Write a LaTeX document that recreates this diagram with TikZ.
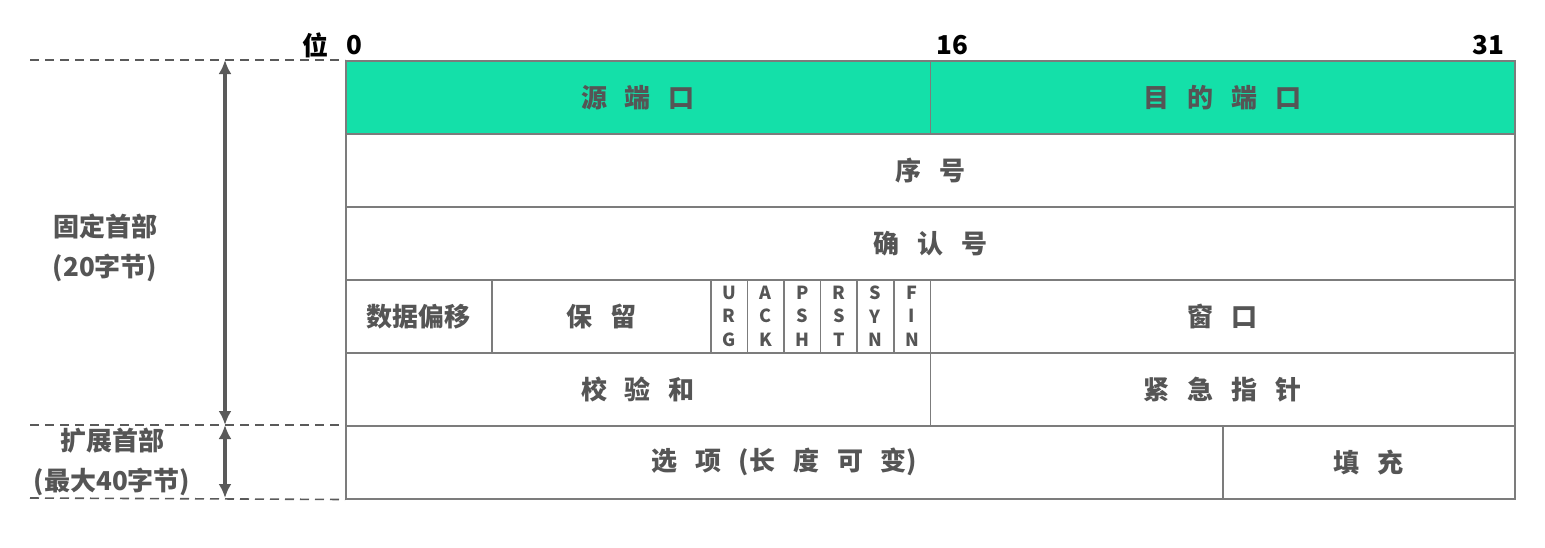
\documentclass[tikz,border=0pt]{standalone}
\usepackage{fontspec}
\setmainfont{Noto Sans CJK SC}[WordSpace=3.0]
\usetikzlibrary{arrows.meta}
\definecolor{mint}{HTML}{14E0A9}
\definecolor{ink}{HTML}{555555}
\definecolor{rulegray}{HTML}{7C7C7C}
\definecolor{dimline}{HTML}{5A5A5A}
\tikzset{cell/.style={draw=rulegray,line width=1.5pt,rectangle,anchor=north west,inner sep=0pt,minimum height=73pt,text=ink,font=\fontsize{26}{26}\selectfont\bfseries}, flag/.style={cell,minimum width=36.53pt,align=center,font=\fontsize{18}{23.5}\selectfont\bfseries}, bitno/.style={font=\fontsize{26}{26}\selectfont\bfseries,text=black,inner sep=0pt}, side/.style={align=center,text=ink,font=\fontsize{26}{40}\selectfont\bfseries}, guide/.style={draw=dimline,line width=1.6pt,dash pattern=on 9pt off 6pt}, span/.style={{Latex[length=14pt,width=13pt]}-{Latex[length=14pt,width=13pt]},line width=3.5pt,draw=dimline}}

\begin{document}
\begin{tikzpicture}[x=1pt,y=-1pt]
\useasboundingbox (0,0) rectangle (1545,547);
% bit numbers
\node[bitno] (wei) at (315,45) {位};
\node[bitno] (b0) at (354,45) {0};
\node[bitno] (b16) at (952,45) {16};
\node[bitno] (b31) at (1488,45) {31};
% header fields
\node[cell,fill=mint,minimum width=584.5pt] (src) at (345,60) {源 端 口};
\node[cell,fill=mint,minimum width=584.5pt] (dst) at (929.5,60) {目 的 端 口};
\node[cell,minimum width=1169pt] (seq) at (345,133) {序 号};
\node[cell,minimum width=1169pt] (ack) at (345,206) {确 认 号};
\node[cell,minimum width=146.1pt] (off) at (345,279) {数据偏移};
\node[cell,minimum width=219.2pt] (rsv) at (491.1,279) {保 留};
\node[flag] (urg) at (710.3,279) {U\\R\\G};
\node[flag] (ackf) at (746.8,279) {A\\C\\K};
\node[flag] (psh) at (783.4,279) {P\\S\\H};
\node[flag] (rst) at (819.9,279) {R\\S\\T};
\node[flag] (syn) at (856.4,279) {S\\Y\\N};
\node[flag] (fin) at (893,279) {F\\I\\N};
\node[cell,minimum width=584.5pt] (win) at (929.5,279) {窗 口};
\node[cell,minimum width=584.5pt] (chk) at (345,352) {校 验 和};
\node[cell,minimum width=584.5pt] (urp) at (929.5,352) {紧 急 指 针};
\node[cell,minimum width=877pt] (opt) at (345,425) {选 项 (长 度 可 变)};
\node[cell,minimum width=292pt] (pad) at (1222,425) {填 充};
% left side
\coordinate (g0) at (30,60);
\coordinate (g1) at (30,425);
\coordinate (g2) at (30,498);
\draw[guide] (g0)--(src.north west);
\draw[guide] (g1)--(opt.north west);
\draw[guide] (g2)--(opt.south west);
\coordinate (a0) at (225,60);
\coordinate (a1) at (225,425);
\coordinate (a2) at (225,498);
\draw[span] (a0)--(a1);
\draw[span] (a1)--(a2);
\node[side] (fixed) at (105,248) {固定首部\\(20字节)};
\node[side] (ext) at (112,462) {扩展首部\\(最大40字节)};
\end{tikzpicture}
\end{document}
